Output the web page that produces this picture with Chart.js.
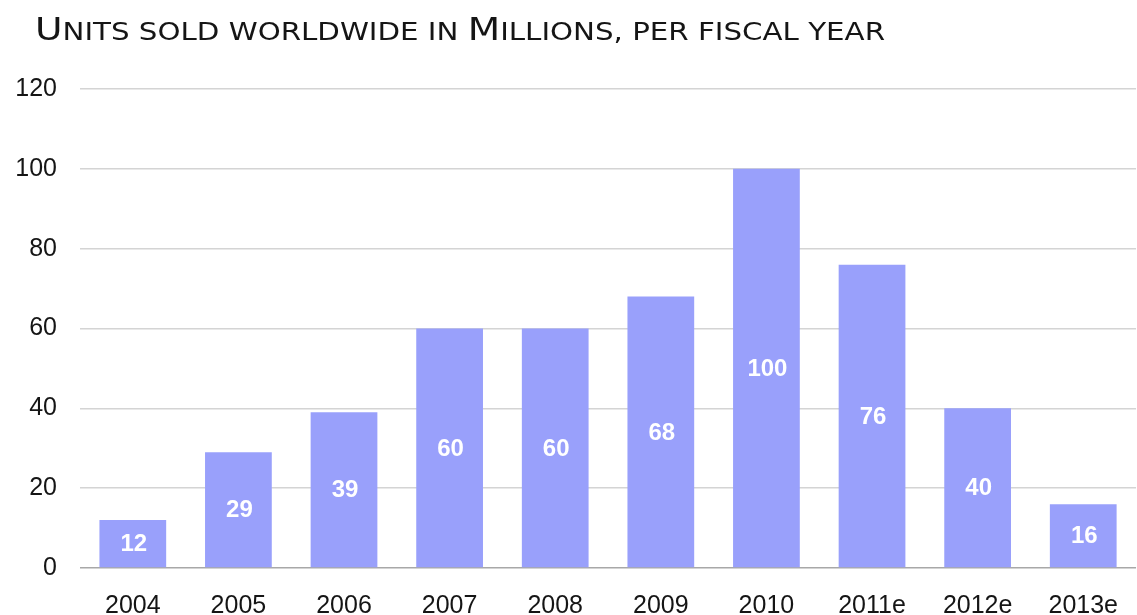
<!DOCTYPE html>
<html>
<head>
<meta charset="utf-8">
<script src="https://cdn.jsdelivr.net/npm/chart.js@4/dist/chart.umd.min.js"></script>
<style>
html,body{margin:0;padding:0;background:#fff;width:1137px;height:615px;overflow:hidden;}
#title{position:absolute;left:35px;top:10px;font-family:"DejaVu Sans Condensed","DejaVu Sans",sans-serif;font-size:32px;line-height:38px;color:#151515;white-space:nowrap;transform-origin:0 0;}
#title .s{text-transform:uppercase;font-size:0.78em;}
#wrap{position:absolute;left:0;top:0;width:1141px;height:615px;}
</style>
</head>
<body>
<div id="wrap"><canvas id="c" width="1141" height="615"></canvas></div>
<div id="title"><span>U</span><span class="s">nits sold worldwide in </span><span>M</span><span class="s">illions, per fiscal year</span></div>
<script>
const categories = ["2004","2005","2006","2007","2008","2009","2010","2011e","2012e","2013e"];
const unitsSold = [12, 29, 39, 60, 60, 68, 100, 76, 40, 16];
const yTicks = [0, 20, 40, 60, 80, 100, 120];

// fit title width to reference span
(function(){
  const t = document.getElementById('title');
  const w = t.getBoundingClientRect().width;
  t.style.transform = 'scaleX(' + (850 / w) + ')';
})();

const barLabels = {
  id: 'barLabels',
  afterDatasetsDraw(chart) {
    const ctx = chart.ctx;
    const meta = chart.getDatasetMeta(0);
    ctx.save();
    ctx.fillStyle = '#ffffff';
    ctx.font = 'bold 24px "Liberation Sans", Arial, sans-serif';
    ctx.textAlign = 'center';
    ctx.textBaseline = 'middle';
    meta.data.forEach((bar, i) => {
      const y = (bar.y + bar.base) / 2;
      ctx.fillText(String(unitsSold[i]), bar.x + 1, y + 1);
    });
    ctx.restore();
  }
};

const tickFont = { family: '"Liberation Sans", Arial, sans-serif', size: 25 };

new Chart(document.getElementById('c'), {
  type: 'bar',
  data: {
    labels: categories,
    datasets: [{
      data: unitsSold,
      backgroundColor: '#99a0fb',
      borderWidth: 0,
      categoryPercentage: 1,
      barPercentage: 0.632
    }]
  },
  options: {
    responsive: false,
    animation: false,
    devicePixelRatio: 1,
    layout: { padding: { top: 89, left: 0, right: 0, bottom: 0 } },
    plugins: { legend: { display: false }, tooltip: { enabled: false }, title: { display: false } },
    scales: {
      x: {
        grid: { display: false, drawTicks: false },
        border: { display: false },
        ticks: { color: '#151515', font: tickFont, padding: 23, maxRotation: 0, autoSkip: false },
        afterFit(s) { s.height = 47; }
      },
      y: {
        min: 0, max: 120,
        afterBuildTicks(s) { s.ticks = yTicks.map(v => ({ value: v })); },
        grid: {
          drawTicks: false,
          color: (c) => c.tick && c.tick.value === 0 ? '#a8a8a8' : '#d4d4d4',
          lineWidth: 1.5
        },
        border: { display: false },
        ticks: { color: '#151515', font: tickFont, padding: 23 },
        afterFit(s) { s.width = 80; }
      }
    }
  },
  plugins: [barLabels]
});
</script>
</body>
</html>
